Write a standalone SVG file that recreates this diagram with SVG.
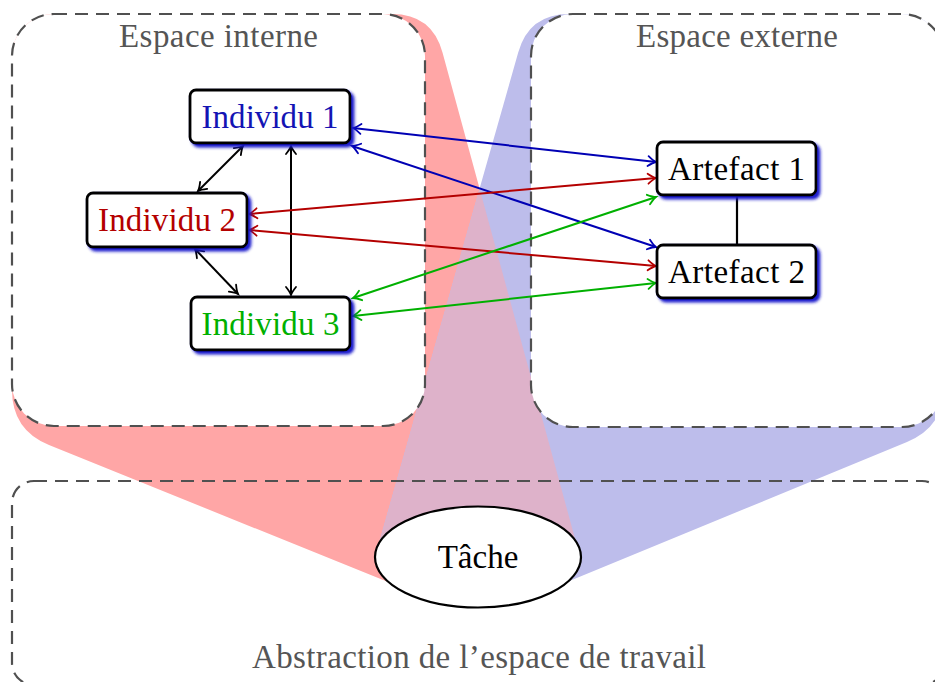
<svg xmlns="http://www.w3.org/2000/svg" width="935" height="682" viewBox="0 0 935 682">
  <style>
    .space { fill: #ffffff; stroke: #505050; stroke-width: 2.2; stroke-dasharray: 13 8; }
    .abstr { fill: none; stroke: #505050; stroke-width: 2.2; stroke-dasharray: 13 8; }
    .title { font-family: "Liberation Serif", "Times New Roman", serif; font-size: 33px; fill: #555555; text-anchor: middle; }
    .node rect { fill: #ffffff; stroke: #000000; stroke-width: 2.8; }
    .label { font-family: "Liberation Serif", "Times New Roman", serif; font-size: 33px; text-anchor: middle; }
    .conn { fill: none; stroke-width: 2; }
    .k { stroke: #000000; marker-start: url(#ak); marker-end: url(#ak); }
    .b { stroke: #0000b4; marker-start: url(#ab); marker-end: url(#ab); }
    .r { stroke: #b40000; marker-start: url(#ar); marker-end: url(#ar); }
    .g { stroke: #00b000; marker-start: url(#ag); marker-end: url(#ag); }
  </style>
  <defs>
    <filter id="sh" x="-10%" y="-20%" width="130%" height="150%">
      <feGaussianBlur in="SourceAlpha" stdDeviation="1.6" result="bl"/>
      <feOffset in="bl" dx="3" dy="3" result="of"/>
      <feFlood flood-color="#1a1acc" result="fc"/>
      <feComposite in="fc" in2="of" operator="in" result="shadow"/>
      <feMerge>
        <feMergeNode in="shadow"/>
        <feMergeNode in="SourceGraphic"/>
      </feMerge>
    </filter>
    <marker id="ak" markerUnits="userSpaceOnUse" viewBox="-10 -7 12 14" markerWidth="12" markerHeight="14" refX="0" refY="0" orient="auto-start-reverse" overflow="visible">
      <path d="M -8,-5 Q -3,-1 0,0 Q -3,1 -8,5" fill="none" stroke="#000000" stroke-width="1.8" stroke-linecap="round"/>
    </marker>
    <marker id="ab" markerUnits="userSpaceOnUse" viewBox="-10 -7 12 14" markerWidth="12" markerHeight="14" refX="0" refY="0" orient="auto-start-reverse" overflow="visible">
      <path d="M -8,-5 Q -3,-1 0,0 Q -3,1 -8,5" fill="none" stroke="#0000b4" stroke-width="1.8" stroke-linecap="round"/>
    </marker>
    <marker id="ar" markerUnits="userSpaceOnUse" viewBox="-10 -7 12 14" markerWidth="12" markerHeight="14" refX="0" refY="0" orient="auto-start-reverse" overflow="visible">
      <path d="M -8,-5 Q -3,-1 0,0 Q -3,1 -8,5" fill="none" stroke="#b40000" stroke-width="1.8" stroke-linecap="round"/>
    </marker>
    <marker id="ag" markerUnits="userSpaceOnUse" viewBox="-10 -7 12 14" markerWidth="12" markerHeight="14" refX="0" refY="0" orient="auto-start-reverse" overflow="visible">
      <path d="M -8,-5 Q -3,-1 0,0 Q -3,1 -8,5" fill="none" stroke="#00b000" stroke-width="1.8" stroke-linecap="round"/>
    </marker>
    <path id="redShape" d="M 12,56 A 42,42 0 0 1 54,14 L 392,14 Q 432,14 442.5,52.6 L 580,557 L 440,603 L 49,445 Q 12,430 12,390 Z"/>
    <path id="blueShape" d="M 944,56 A 42,42 0 0 0 902,14 L 569,14 Q 529,14 518.2,52.5 L 375,557 L 516,603 L 907,442 Q 944,427 944,387 Z"/>
    <clipPath id="clipRed">
      <use href="#redShape"/>
    </clipPath>
  </defs>

  <g id="projections">
    <use href="#redShape" fill="#ffa6a6"/>
    <use href="#blueShape" fill="#bdbdeb"/>
    <g clip-path="url(#clipRed)">
      <use href="#blueShape" fill="#deb2ca"/>
    </g>
  </g>

  <g id="espace-interne">
    <rect class="space" x="12" y="14" width="413" height="412" rx="42" ry="42"/>
    <text class="title" x="218.5" y="47" textLength="199">Espace interne</text>
  </g>
  <g id="espace-externe">
    <rect class="space" x="531" y="14" width="413" height="413" rx="42" ry="42"/>
    <text class="title" x="737" y="47" textLength="202">Espace externe</text>
  </g>
  <g id="abstraction">
    <rect class="abstr" x="12" y="481" width="932" height="204" rx="22" ry="22"/>
    <text class="title" x="479" y="668" textLength="454">Abstraction de l’espace de travail</text>
  </g>

  <g id="tache">
    <ellipse cx="478" cy="557" rx="103" ry="50.5" fill="#ffffff" stroke="#000000" stroke-width="2.2"/>
    <text class="label" x="478" y="568" fill="#000000">Tâche</text>
  </g>

  <g id="connectors">
    <line class="conn k" x1="243" y1="146" x2="198" y2="191"/>
    <line class="conn k" x1="291" y1="146" x2="291" y2="295"/>
    <line class="conn k" x1="195" y1="249" x2="238" y2="294"/>
    <line class="conn b" x1="353" y1="128" x2="656" y2="162"/>
    <line class="conn b" x1="352" y1="146" x2="656" y2="247"/>
    <line class="conn r" x1="249" y1="214" x2="656" y2="178"/>
    <line class="conn r" x1="249" y1="230" x2="656" y2="266"/>
    <line class="conn g" x1="353" y1="298" x2="656" y2="197"/>
    <line class="conn g" x1="353" y1="316" x2="656" y2="283"/>
    <line x1="737" y1="195" x2="737" y2="245" stroke="#000000" stroke-width="2.2"/>
  </g>

  <g id="individu1" class="node">
    <rect x="190" y="90" width="160" height="53" rx="6" filter="url(#sh)"/>
    <text class="label" x="270" y="128" fill="#1414b4" textLength="137">Individu 1</text>
  </g>
  <g id="individu2" class="node">
    <rect x="87" y="193" width="160" height="54" rx="6" filter="url(#sh)"/>
    <text class="label" x="167" y="231" fill="#b40000" textLength="138">Individu 2</text>
  </g>
  <g id="individu3" class="node">
    <rect x="191" y="297" width="159" height="53" rx="6" filter="url(#sh)"/>
    <text class="label" x="270.5" y="335" fill="#00b000" textLength="138">Individu 3</text>
  </g>
  <g id="artefact1" class="node">
    <rect x="657" y="142" width="159" height="53" rx="6" filter="url(#sh)"/>
    <text class="label" x="736.5" y="180" fill="#000000" textLength="137">Artefact 1</text>
  </g>
  <g id="artefact2" class="node">
    <rect x="657" y="245" width="159" height="53" rx="6" filter="url(#sh)"/>
    <text class="label" x="736.5" y="283" fill="#000000" textLength="137">Artefact 2</text>
  </g>
</svg>
